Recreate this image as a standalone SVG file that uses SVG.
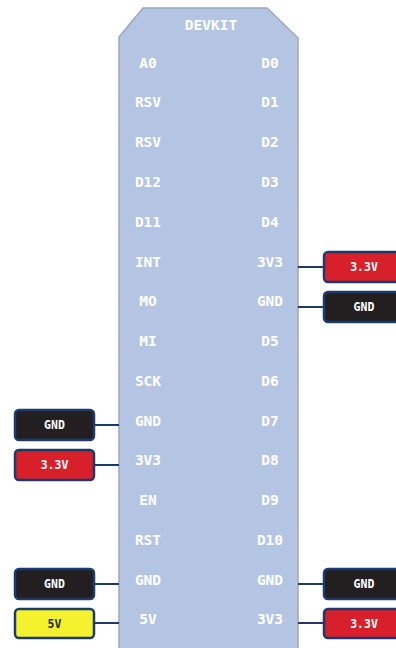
<svg xmlns="http://www.w3.org/2000/svg" width="396" height="648" viewBox="0 0 396 648">
  <style>
    .board { fill: #b4c5e3; stroke: #9ea7b8; stroke-width: 1.5; }
    .pin { font-family: "DejaVu Sans Mono", "Liberation Mono", monospace; font-weight: bold; font-size: 14.5px; fill: #ffffff; text-anchor: middle; dominant-baseline: central; }
    .tag { stroke: #1e3a6c; stroke-width: 2.5; }
    .tag-label { font-family: "DejaVu Sans Mono", "Liberation Mono", monospace; font-weight: bold; font-size: 11.5px; text-anchor: middle; dominant-baseline: central; }
    .gnd { fill: #231f20; }
    .v33 { fill: #d8202a; }
    .v5 { fill: #f3f22c; }
    .light { fill: #ffffff; }
    .dark { fill: #2a2a10; }
    .wire { stroke: #1e3a6c; stroke-width: 2; fill: none; }
  </style>

  <!-- board outline with chamfered top corners -->
  <g id="devkit">
    <polygon class="board" points="143,8 267,8 298,38 298,652 119,652 119,37"/>
    <text class="pin" x="211" y="25">DEVKIT</text>
    <!-- left pin column -->
    <text class="pin" x="148" y="62.5">A0</text>
    <text class="pin" x="148" y="102">RSV</text>
    <text class="pin" x="148" y="142">RSV</text>
    <text class="pin" x="148" y="182">D12</text>
    <text class="pin" x="148" y="221.5">D11</text>
    <text class="pin" x="148" y="261.5">INT</text>
    <text class="pin" x="148" y="301">MO</text>
    <text class="pin" x="148" y="341">MI</text>
    <text class="pin" x="148" y="380.5">SCK</text>
    <text class="pin" x="148" y="420.5">GND</text>
    <text class="pin" x="148" y="460">3V3</text>
    <text class="pin" x="148" y="500">EN</text>
    <text class="pin" x="148" y="540">RST</text>
    <text class="pin" x="148" y="579.5">GND</text>
    <text class="pin" x="148" y="619">5V</text>
    <!-- right pin column -->
    <text class="pin" x="270" y="62.5">D0</text>
    <text class="pin" x="270" y="102">D1</text>
    <text class="pin" x="270" y="142">D2</text>
    <text class="pin" x="270" y="182">D3</text>
    <text class="pin" x="270" y="221.5">D4</text>
    <text class="pin" x="270" y="261.5">3V3</text>
    <text class="pin" x="270" y="301">GND</text>
    <text class="pin" x="270" y="341">D5</text>
    <text class="pin" x="270" y="380.5">D6</text>
    <text class="pin" x="270" y="420.5">D7</text>
    <text class="pin" x="270" y="460">D8</text>
    <text class="pin" x="270" y="500">D9</text>
    <text class="pin" x="270" y="540">D10</text>
    <text class="pin" x="270" y="579.5">GND</text>
    <text class="pin" x="270" y="619">3V3</text>
  </g>

  <!-- wires from pins to power tags -->
  <g id="connectors">
    <line class="wire" x1="298" y1="267" x2="324" y2="267"/>
    <line class="wire" x1="298" y1="307" x2="324" y2="307"/>
    <line class="wire" x1="94" y1="425" x2="119" y2="425"/>
    <line class="wire" x1="94" y1="465" x2="119" y2="465"/>
    <line class="wire" x1="94" y1="584" x2="119" y2="584"/>
    <line class="wire" x1="94" y1="623" x2="119" y2="623"/>
    <line class="wire" x1="298" y1="584" x2="324" y2="584"/>
    <line class="wire" x1="298" y1="623" x2="324" y2="623"/>
  </g>

  <!-- power tags -->
  <g id="tag-r-3v3-a">
    <rect class="tag v33" x="324" y="252" width="80" height="30" rx="4"/>
    <text class="tag-label light" x="364" y="267">3.3V</text>
  </g>
  <g id="tag-r-gnd-a">
    <rect class="tag gnd" x="324" y="292" width="80" height="30" rx="4"/>
    <text class="tag-label light" x="364" y="307">GND</text>
  </g>
  <g id="tag-l-gnd-a">
    <rect class="tag gnd" x="15" y="410" width="79" height="30" rx="4"/>
    <text class="tag-label light" x="54.5" y="425">GND</text>
  </g>
  <g id="tag-l-3v3">
    <rect class="tag v33" x="15" y="450" width="79" height="30" rx="4"/>
    <text class="tag-label light" x="54.5" y="465">3.3V</text>
  </g>
  <g id="tag-l-gnd-b">
    <rect class="tag gnd" x="15" y="569" width="79" height="30" rx="4"/>
    <text class="tag-label light" x="54.5" y="584">GND</text>
  </g>
  <g id="tag-l-5v">
    <rect class="tag v5" x="15" y="609" width="79" height="29" rx="4"/>
    <text class="tag-label dark" x="54.5" y="623.5">5V</text>
  </g>
  <g id="tag-r-gnd-b">
    <rect class="tag gnd" x="324" y="569" width="80" height="30" rx="4"/>
    <text class="tag-label light" x="364" y="584">GND</text>
  </g>
  <g id="tag-r-3v3-b">
    <rect class="tag v33" x="324" y="609" width="80" height="29" rx="4"/>
    <text class="tag-label light" x="364" y="623.5">3.3V</text>
  </g>
</svg>
